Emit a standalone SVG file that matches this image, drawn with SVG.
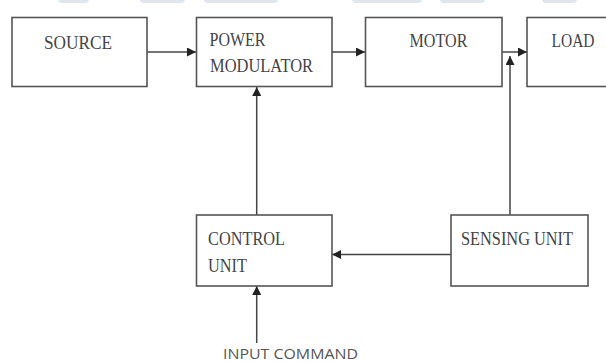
<svg xmlns="http://www.w3.org/2000/svg" width="606" height="363" viewBox="0 0 606 363">
<style>
.box{fill:#fff;stroke:#555;stroke-width:1.6}
.lbl{font-family:"Liberation Serif","Times New Roman",serif;font-size:18px;fill:#444}
.cmd{font-family:"Open Sans","Liberation Sans",Arial,sans-serif;font-size:14px;fill:#555}
.wire{fill:none;stroke:#444;stroke-width:1.5}
.wm{fill:#dfe6ee}
</style>
<defs>
<marker id="ah" viewBox="0 0 10 10" refX="10" refY="5" markerWidth="9" markerHeight="9" markerUnits="userSpaceOnUse" orient="auto">
<path d="M0,0 L10,5 L0,10 z" fill="#222"/>
</marker>
</defs>
<rect width="606" height="363" fill="#fff"/>
<g id="watermark">
<rect class="wm" x="58" y="-6" width="31" height="9" rx="4"/>
<rect class="wm" x="140" y="-6" width="45" height="9" rx="4"/>
<rect class="wm" x="204" y="-6" width="74" height="9" rx="4"/>
<rect class="wm" x="352" y="-6" width="70" height="9" rx="4"/>
<rect class="wm" x="440" y="-6" width="45" height="9" rx="4"/>
<rect class="wm" x="542" y="-6" width="35" height="9" rx="4"/>
</g>
<g id="connectors">
<line class="wire" x1="147" y1="52" x2="196" y2="52" marker-end="url(#ah)"/>
<line class="wire" x1="332" y1="52" x2="365" y2="52" marker-end="url(#ah)"/>
<line class="wire" x1="502" y1="52" x2="527" y2="52" marker-end="url(#ah)"/>
<line class="wire" x1="510" y1="215" x2="510" y2="56" marker-end="url(#ah)"/>
<line class="wire" x1="451" y1="254.5" x2="332" y2="254.5" marker-end="url(#ah)"/>
<line class="wire" x1="256.7" y1="215" x2="256.7" y2="87" marker-end="url(#ah)"/>
<line class="wire" x1="256.7" y1="343" x2="256.7" y2="286" marker-end="url(#ah)"/>
</g>
<g id="source">
<rect class="box" x="12" y="17.5" width="135" height="69"/>
<text class="lbl" x="44" y="48.5" textLength="68" lengthAdjust="spacingAndGlyphs">SOURCE</text>
</g>
<g id="power-modulator">
<rect class="box" x="196.5" y="17.5" width="135.5" height="69"/>
<text class="lbl" x="209.5" y="45.5" textLength="56" lengthAdjust="spacingAndGlyphs">POWER</text>
<text class="lbl" x="210" y="71.5" textLength="103" lengthAdjust="spacingAndGlyphs">MODULATOR</text>
</g>
<g id="motor">
<rect class="box" x="365.5" y="17.5" width="136.5" height="69"/>
<text class="lbl" x="409.5" y="46.5" textLength="58" lengthAdjust="spacingAndGlyphs">MOTOR</text>
</g>
<g id="load">
<rect class="box" x="527" y="17.5" width="90" height="69"/>
<text class="lbl" x="551.5" y="46.5" textLength="43" lengthAdjust="spacingAndGlyphs">LOAD</text>
</g>
<g id="control-unit">
<rect class="box" x="196.5" y="215" width="135.5" height="71"/>
<text class="lbl" x="208" y="245" textLength="77" lengthAdjust="spacingAndGlyphs">CONTROL</text>
<text class="lbl" x="208" y="271.5" textLength="39" lengthAdjust="spacingAndGlyphs">UNIT</text>
</g>
<g id="sensing-unit">
<rect class="box" x="451" y="215" width="137" height="71"/>
<text class="lbl" x="461" y="245" textLength="112" lengthAdjust="spacingAndGlyphs">SENSING UNIT</text>
</g>
<g id="input-command">
<text class="cmd" x="223" y="359" textLength="135" lengthAdjust="spacingAndGlyphs">INPUT COMMAND</text>
</g>
</svg>
